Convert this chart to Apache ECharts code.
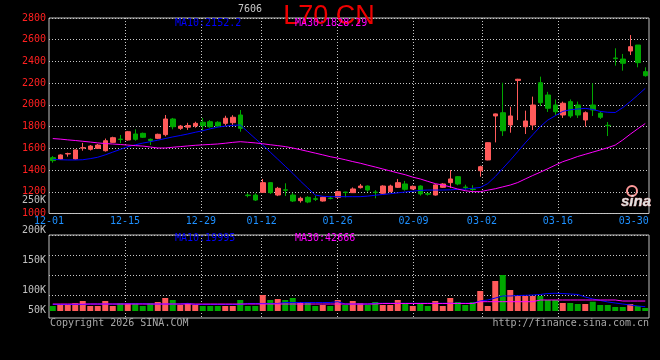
<!DOCTYPE html>
<html><head><meta charset="utf-8">
<script src="https://cdn.jsdelivr.net/npm/echarts@6/dist/echarts.min.js"></script>
<style>html,body{margin:0;padding:0;background:#000;}#c{width:660px;height:360px;}</style>
</head><body><div id="c"></div>
<script>
// ---------- data ----------
const dates = ['12-01','12-02','12-03','12-04','12-05','12-08','12-09','12-10','12-11','12-12',
'12-15','12-16','12-17','12-18','12-19','12-22','12-23','12-24','12-25','12-26',
'12-29','12-30','12-31','01-05','01-06','01-07','01-08','01-09','01-12','01-13',
'01-14','01-15','01-16','01-19','01-20','01-21','01-22','01-23','01-26','01-27',
'01-28','01-29','01-30','02-02','02-03','02-04','02-05','02-06','02-09','02-10',
'02-11','02-12','02-13','02-24','02-25','02-26','02-27','03-02','03-03','03-04',
'03-05','03-06','03-09','03-10','03-11','03-12','03-13','03-16','03-17','03-18',
'03-19','03-20','03-23','03-24','03-25','03-26','03-27','03-30','03-31','04-01'];
const opens = [1514,1500,1548,1502,1602,1591,1600,1578,1655,1685,
1677,1732,1738,1683,1692,1726,1870,1784,1795,1806,
1840,1845,1840,1830,1836,1907,1170,1170,1195,1284,
1170,1218,1170,1118,1149,1136,1115,1142,1149,1197,
1192,1238,1253,1197,1186,1201,1241,1272,1226,1253,
1182,1170,1241,1284,1339,1243,1225,1394,1493,1898,
1928,1815,2225,1799,1815,2204,2091,1999,1907,2030,
1999,1861,1999,1923,1812,2432,2422,2496,2551,2306];
const closes = [1487,1539,1552,1585,1606,1621,1630,1670,1698,1681,
1753,1683,1702,1672,1729,1870,1799,1805,1810,1830,
1809,1799,1805,1877,1886,1784,1165,1124,1284,1192,
1232,1214,1115,1140,1106,1131,1149,1138,1201,1193,
1226,1253,1216,1193,1253,1253,1284,1223,1250,1180,
1178,1263,1272,1318,1272,1239,1221,1431,1652,1917,
1762,1898,2236,1852,1999,2020,1969,1937,2015,1898,
1907,1928,1953,1886,1808,2426,2383,2536,2389,2269];
const lows = [1468,1495,1523,1497,1578,1580,1595,1570,1650,1647,
1670,1670,1695,1631,1685,1710,1775,1770,1770,1790,
1760,1790,1795,1808,1815,1753,1149,1115,1190,1180,
1160,1161,1106,1100,1095,1115,1110,1130,1140,1149,
1190,1230,1200,1140,1180,1195,1235,1210,1220,1165,
1165,1165,1235,1235,1260,1220,1200,1339,1490,1655,
1714,1744,1860,1732,1769,1990,1935,1905,1880,1880,
1880,1800,1898,1870,1713,2361,2315,2459,2346,2260];
const highs = [1529,1545,1560,1590,1650,1630,1640,1690,1707,1723,
1760,1775,1745,1690,1735,1907,1880,1815,1835,1845,
1880,1860,1850,1900,1905,1953,1186,1186,1318,1290,
1245,1278,1190,1155,1160,1165,1155,1160,1210,1200,
1240,1272,1258,1215,1260,1265,1318,1300,1258,1260,
1190,1270,1280,1400,1345,1265,1260,1440,1655,1920,
2204,1983,2240,1947,2076,2260,2120,2050,2030,2050,
2030,1940,2199,1940,1842,2521,2469,2643,2551,2346];
const ma10 = [1499,1495,1493,1493,1495,1505,1518,1540,1565,1590,
1615,1632,1648,1661,1675,1690,1705,1718,1732,1748,
1762,1780,1795,1805,1812,1815,1752,1690,1630,1565,
1500,1435,1370,1300,1235,1170,1158,1155,1155,1155,
1155,1155,1160,1168,1175,1182,1190,1198,1205,1213,
1216,1216,1216,1218,1222,1225,1232,1240,1275,1340,
1415,1490,1570,1650,1725,1800,1860,1900,1940,1955,
1962,1968,1958,1940,1932,1930,1975,2030,2090,2152.2];
const ma30 = [1690,1685,1678,1672,1665,1658,1650,1644,1640,1635,
1630,1625,1621,1612,1603,1603,1610,1616,1622,1628,
1632,1636,1640,1647,1655,1661,1656,1650,1642,1633,
1625,1616,1603,1588,1572,1556,1540,1523,1510,1495,
1478,1463,1445,1428,1410,1392,1374,1357,1335,1318,
1296,1275,1262,1245,1225,1210,1201,1201,1215,1228,
1245,1262,1285,1318,1350,1380,1412,1445,1477,1500,
1525,1545,1565,1585,1606,1630,1677,1730,1780,1828.29];
const volumes = [75000,76700,76700,79500,83300,75000,75000,83300,75000,79500,
79500,79500,75000,79500,81700,88300,85000,76700,79500,76700,
75000,75000,75000,75000,75000,85000,75000,75000,93300,85000,
86700,85000,88300,81700,81700,75000,76700,75000,85000,76700,
83300,79500,76700,81700,76700,76700,85000,79500,75000,79500,
75000,83300,75000,88300,81700,76700,81700,100000,75000,116700,
126700,101700,91700,91700,91700,91700,85000,85000,80000,80000,
78300,78300,82200,76700,76700,73300,73300,78300,75000,71700];
const volMa10 = [77500,77500,77500,77500,77500,78300,78300,78300,78300,78300,
78800,78800,78800,78300,78300,78300,78300,78300,79500,77500,
77500,77500,77500,77500,77500,77500,79200,79200,79200,79200,
79200,80800,80800,80800,80800,80800,80800,80800,82200,78300,
78300,78300,78300,79500,79500,79500,79500,79500,79500,79500,
79500,79500,79500,79500,79500,79500,79500,83300,85000,88300,
91700,91700,92500,92800,93300,94200,95800,96200,95800,95000,
94200,90000,86700,84200,81700,80000,78300,76700,75000,73800];
const volMa30 = [78300,78300,78300,78300,78300,78300,78300,78300,78300,78300,
78300,78300,78300,78300,78300,78300,78300,78300,78300,78300,
78300,78300,78300,78300,78300,78300,78300,78300,78300,78300,
78300,78300,78300,78300,78300,78300,78300,78300,78300,78300,
78300,78300,78300,78300,79200,79200,79200,79200,79200,79200,
79200,79200,79200,79200,79200,79200,79200,82200,82200,82200,
82200,82200,82200,82200,82200,85000,85000,85000,85000,85000,
85000,85000,85000,85000,85000,85000,83300,83300,83300,83300];
const dateTicks = ['12-01','12-15','12-29','01-12','01-26','02-09','03-02','03-16','03-30'];
const priceAxis = {min:1000, max:2800, step:200};
const volLabelAxis = {min:50000, max:250000, step:50000};
const volDataAxis = {min:66667, max:193333};
const title = 'L70 CN';
const maLabels = {ma10:'MA10:2152.2', ma30:'MA30:1828.29', vma10:'MA10:19995', vma30:'MA30:42666'};

// ---------- style ----------
const RED = '#ff5a5a', GREEN = '#00a800';
const MONO = '"DejaVu Sans Mono", "Liberation Mono", monospace';
const GRIDC = '#c8c8c8';
const dot = {color: GRIDC, type: [1, 2], width: 1};
const L = 49, W = 600;
const isTick = (i, v) => dateTicks.includes(v);
const isInnerTick = (i, v) => dateTicks.includes(v) && v !== dateTicks[0] && v !== dateTicks[dateTicks.length - 1];

const candle = dates.map((d, i) => [opens[i], closes[i], lows[i], highs[i]]);
const volData = volumes.map((v, i) => ({value: v, itemStyle: {color: closes[i] >= opens[i] ? RED : GREEN}}));

const chart = echarts.init(document.getElementById('c'), null, {renderer: 'canvas'});
chart.setOption({
  animation: false,
  backgroundColor: '#000',
  textStyle: {fontFamily: MONO},
  grid: [
    {left: L, top: 18, width: W, height: 195.5, show: true, borderColor: '#c0c0c0', borderWidth: 1, backgroundColor: 'transparent', containLabel: false, outerBoundsMode: 'none'},
    {left: L, top: 235, width: W, height: 83, show: true, borderColor: '#c0c0c0', borderWidth: 1, backgroundColor: 'transparent', containLabel: false, outerBoundsMode: 'none'},
    {left: L, top: 235, width: W, height: 76, show: false, containLabel: false, outerBoundsMode: 'none'},
    {left: L, top: 235, width: W, height: 60, show: false, containLabel: false, outerBoundsMode: 'none'},
    {left: L, top: 200, width: W, height: 120.6, show: false, containLabel: false, outerBoundsMode: 'none'}
  ],
  xAxis: [
    {type: 'category', gridIndex: 0, data: dates, boundaryGap: true, position: 'top', show: false},
    {type: 'category', gridIndex: 0, data: dates, boundaryGap: false, position: 'bottom',
      axisLine: {show: false, onZero: false}, axisTick: {show: false},
      axisLabel: {interval: isTick, color: '#1e90ff', fontFamily: MONO, fontSize: 10, margin: 3},
      splitLine: {show: true, interval: isInnerTick, lineStyle: dot}},
    {type: 'category', gridIndex: 1, data: dates, boundaryGap: false,
      axisLine: {show: false, onZero: false}, axisTick: {show: false}, axisLabel: {show: false},
      splitLine: {show: true, interval: isInnerTick, lineStyle: dot}},
    {type: 'category', gridIndex: 2, data: dates, boundaryGap: true, show: false},
    {type: 'value', gridIndex: 3, min: 0, max: 1, show: false},
    {type: 'value', gridIndex: 4, min: 0, max: 1, show: false}
  ],
  yAxis: [
    {type: 'value', gridIndex: 0, min: priceAxis.min, max: priceAxis.max, interval: priceAxis.step,
      axisLine: {show: false}, axisTick: {show: false},
      axisLabel: {color: '#ff2020', fontFamily: MONO, fontSize: 10, margin: 3, formatter: v => String(v)},
      splitLine: {show: true, lineStyle: dot}},
    {type: 'value', gridIndex: 1, min: 0, max: 1, show: false},
    {type: 'value', gridIndex: 2, min: volDataAxis.min, max: volDataAxis.max, show: false},
    {type: 'value', gridIndex: 3, min: 0, max: 60, interval: 20,
      axisLine: {show: false}, axisTick: {show: false}, axisLabel: {show: false},
      splitLine: {show: true, lineStyle: dot}},
    {type: 'value', gridIndex: 4, min: volLabelAxis.min, max: volLabelAxis.max, interval: volLabelAxis.step,
      axisLine: {show: false}, axisTick: {show: false}, splitLine: {show: false},
      axisLabel: {color: '#c0c0c0', fontFamily: MONO, fontSize: 10, margin: 3,
        formatter: v => v === volLabelAxis.min ? '{s|' + (v / 1000) + 'K}' : (v / 1000) + 'K',
        rich: {s: {color: '#c0c0c0', fontFamily: MONO, fontSize: 10, padding: [0, 0, 20, 0]}}}}
  ],
  series: [
    {type: 'candlestick', xAxisIndex: 0, yAxisIndex: 0, data: candle, barWidth: 5,
      itemStyle: {color: RED, color0: GREEN, borderColor: RED, borderColor0: GREEN, borderWidth: 1}},
    {type: 'line', xAxisIndex: 0, yAxisIndex: 0, data: ma10, symbol: 'none', lineStyle: {color: '#0000ff', width: 1}, itemStyle: {color: '#0000ff'}},
    {type: 'line', xAxisIndex: 0, yAxisIndex: 0, data: ma30, symbol: 'none', lineStyle: {color: '#ff00ff', width: 1}, itemStyle: {color: '#ff00ff'}},
    {type: 'bar', xAxisIndex: 3, yAxisIndex: 2, data: volData, barWidth: 6},
    {type: 'line', xAxisIndex: 3, yAxisIndex: 2, data: volMa10, symbol: 'none', lineStyle: {color: '#0000ff', width: 1}, itemStyle: {color: '#0000ff'}},
    {type: 'line', xAxisIndex: 3, yAxisIndex: 2, data: volMa30, symbol: 'none', lineStyle: {color: '#ff00ff', width: 1}, itemStyle: {color: '#ff00ff'}}
  ],
  graphic: [
    {type: 'text', x: 329, y: 17, z: 1, style: {text: title, fill: '#ee0000', font: '27px "Liberation Sans", Arial, sans-serif', align: 'center', verticalAlign: 'middle'}},
    {type: 'text', x: 238, y: 9.5, z: 2, style: {text: '7606', fill: '#c8c8c8', font: '10px ' + MONO, align: 'left', verticalAlign: 'middle'}},
    {type: 'text', x: 175, y: 23.5, z: 3, style: {text: maLabels.ma10, fill: '#0000ff', font: '10px ' + MONO, align: 'left', verticalAlign: 'middle'}},
    {type: 'text', x: 295, y: 23.5, z: 3, style: {text: maLabels.ma30, fill: '#ff00ff', font: '10px ' + MONO, align: 'left', verticalAlign: 'middle'}},
    {type: 'text', x: 175, y: 238.5, z: 3, style: {text: maLabels.vma10, fill: '#0000ff', font: '10px ' + MONO, align: 'left', verticalAlign: 'middle'}},
    {type: 'text', x: 295, y: 238.5, z: 3, style: {text: maLabels.vma30, fill: '#ff00ff', font: '10px ' + MONO, align: 'left', verticalAlign: 'middle'}},
    {type: 'text', x: 50, y: 323.5, style: {text: 'Copyright 2026 SINA.COM', fill: '#a8a8a8', font: '10px ' + MONO, align: 'left', verticalAlign: 'middle'}},
    {type: 'text', x: 649, y: 323.5, style: {text: 'http://finance.sina.com.cn', fill: '#a8a8a8', font: '10px ' + MONO, align: 'right', verticalAlign: 'middle'}},
    {type: 'circle', shape: {cx: 632, cy: 191, r: 5}, style: {fill: 'none', stroke: '#ff9a9a', lineWidth: 2}},
    {type: 'text', x: 636, y: 202, style: {text: 'sina', fill: '#e0e0e0', stroke: '#ff9a9a', lineWidth: 0.5, font: 'italic bold 15px "Liberation Sans", Arial, sans-serif', align: 'center', verticalAlign: 'middle'}}
  ]
});
</script></body></html>
